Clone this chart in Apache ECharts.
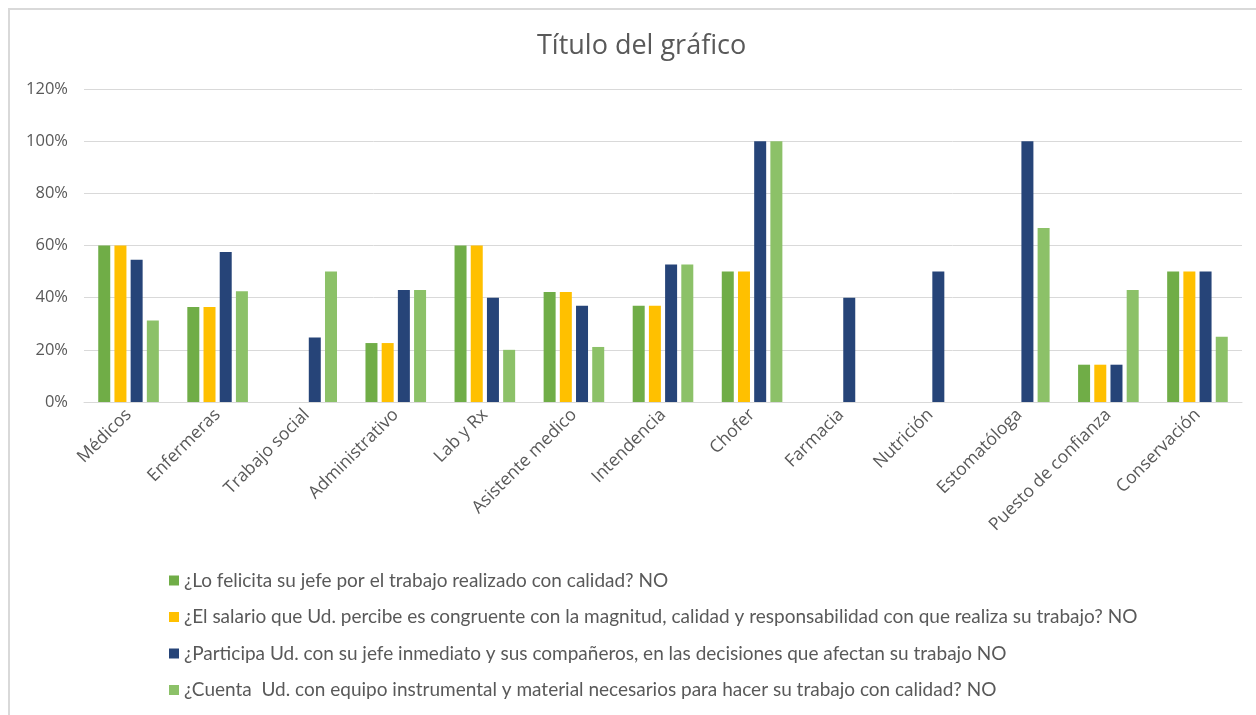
<!DOCTYPE html>
<html>
<head>
<meta charset="utf-8">
<script src="https://cdn.jsdelivr.net/npm/echarts@6/dist/echarts.min.js"></script>
<style>
  html, body { margin: 0; padding: 0; background: #fff; }
  #main { width: 1256px; height: 715px; }
</style>
</head>
<body>
<div id="main"></div>
<script>
var categories = ['Médicos', 'Enfermeras', 'Trabajo social', 'Administrativo', 'Lab y Rx',
  'Asistente medico', 'Intendencia', 'Chofer', 'Farmacia', 'Nutrición', 'Estomatóloga',
  'Puesto de confianza', 'Conservación'];

var seriesNames = [
  '¿Lo felicita su jefe por el trabajo realizado con calidad? NO',
  '¿El salario que Ud. percibe es congruente con la magnitud, calidad y responsabilidad con que realiza su trabajo? NO',
  '¿Participa Ud. con su jefe inmediato y sus compañeros, en las decisiones que afectan su trabajo NO',
  '¿Cuenta  Ud. con equipo instrumental y material necesarios para hacer su trabajo con calidad? NO'
];

// values in %
var felicita = [60, 36.4, 0, 22.6, 60, 42.2, 36.9, 50, 0, 0, 0, 14.3, 50];
var salario = [60, 36.4, 0, 22.6, 60, 42.2, 36.9, 50, 0, 0, 0, 14.3, 50];
var participa = [54.5, 57.5, 24.7, 42.9, 40, 36.9, 52.7, 100, 40, 50, 100, 14.3, 50];
var equipo = [31.2, 42.5, 50, 42.9, 20, 21.1, 52.7, 100, 0, 0, 66.7, 42.9, 25];

var colors = ['#70AD47', '#FFC000', '#264478', '#8CC168'];
var yTicks = [0, 20, 40, 60, 80, 100, 120];

var textColor = '#595959';
var font = 'Open Sans';

function makeSeries(name, data, i) {
  return {
    name: name,
    type: 'bar',
    data: data,
    barWidth: 12,
    barGap: '35%',
    itemStyle: { color: colors[i] }
  };
}

var chart = echarts.init(document.getElementById('main'));
chart.setOption({
  animation: false,
  title: {
    text: 'Título del gráfico',
    left: 532,
    top: 28,
    textStyle: { fontFamily: font, fontSize: 27, fontWeight: 'normal', color: textColor }
  },
  grid: { left: 84, right: 14, top: 89, bottom: 313 },
  legend: {
    orient: 'vertical',
    left: 164,
    top: 566,
    itemWidth: 10,
    itemHeight: 10,
    itemGap: 17.5,
    icon: 'rect',
    textStyle: { fontFamily: 'Lato', fontSize: 19, color: textColor }
  },
  xAxis: {
    type: 'category',
    data: categories,
    axisLine: { lineStyle: { color: '#D9D9D9' } },
    axisTick: { show: false },
    axisLabel: {
      rotate: 45,
      interval: 0,
      margin: 10,
      fontFamily: font,
      fontSize: 17.5,
      color: textColor
    }
  },
  yAxis: {
    type: 'value',
    min: yTicks[0],
    max: yTicks[yTicks.length - 1],
    interval: 20,
    axisLine: { show: false },
    axisTick: { show: false },
    splitLine: { lineStyle: { color: '#D9D9D9' } },
    axisLabel: {
      formatter: '{value}%',
      margin: 16,
      fontFamily: font,
      fontSize: 16.5,
      color: textColor
    }
  },
  graphic: [{
    type: 'polyline',
    shape: { points: [[9, 715], [9, 9], [1256, 9]] },
    style: { stroke: '#D9D9D9', lineWidth: 2, fill: null }
  }],
  series: [
    makeSeries(seriesNames[0], felicita, 0),
    makeSeries(seriesNames[1], salario, 1),
    makeSeries(seriesNames[2], participa, 2),
    makeSeries(seriesNames[3], equipo, 3)
  ]
});
</script>
</body>
</html>
